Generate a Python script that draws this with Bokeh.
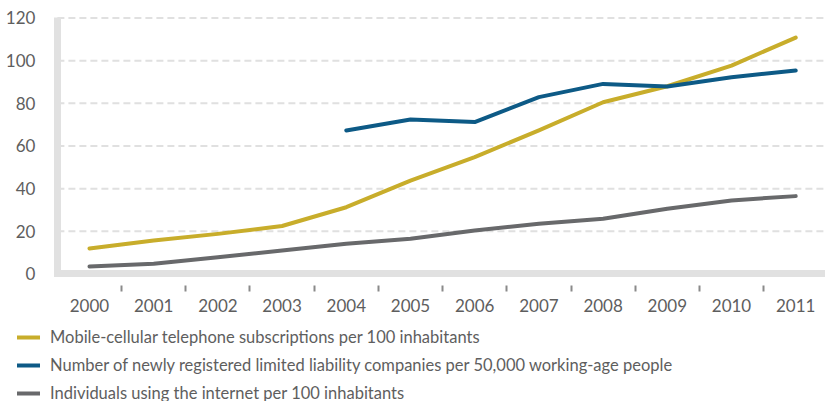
from bokeh.plotting import figure
from bokeh.models import FixedTicker, Legend, LegendItem, Range1d
from bokeh.embed import file_html
from bokeh.resources import INLINE

years = ["2000", "2001", "2002", "2003", "2004", "2005", "2006", "2007", "2008", "2009", "2010", "2011"]
mobile = [12.0, 15.7, 18.8, 22.5, 31.3, 43.8, 54.8, 67.3, 80.5, 88.0, 97.7, 110.8]
llc_years = ["2004", "2005", "2006", "2007", "2008", "2009", "2010", "2011"]
llc = [67.3, 72.4, 71.2, 82.9, 89.1, 87.9, 92.2, 95.4]
internet = [3.5, 4.8, 7.9, 11.0, 14.2, 16.5, 20.4, 23.5, 25.9, 30.6, 34.5, 36.5]
y_ticks = [0, 20, 40, 60, 80, 100, 120]

series_labels = [
    "Mobile-cellular telephone subscriptions per 100 inhabitants",
    "Number of newly registered limited liability companies per 50,000 working-age people",
    "Individuals using the internet per 100 inhabitants",
]
colors = ["#c8ad2b", "#0d5a86", "#68696b"]

FONT = "Lato"
TXT = "#5e5e5e"

xs = list(range(len(years)))
llc_x = [years.index(y) for y in llc_years]
series = [(xs, mobile), (llc_x, llc), (xs, internet)]

X0, X1 = -1.386, 11.464      # visible x extent (category units)
Y0, Y1 = -59.77, 128.2       # visible y extent (value units)
AX_LEFT = -0.5               # where the value axis sits

p = figure(width=825, height=401, output_backend="svg", toolbar_location=None,
           x_range=Range1d(X0, X1), y_range=Range1d(Y0, Y1), min_border=0)
p.outline_line_color = None
p.background_fill_color = "white"
p.border_fill_color = "white"

# dashed horizontal grid lines, limited to the plotting area
p.segment(x0=[AX_LEFT] * len(y_ticks), x1=[X1] * len(y_ticks), y0=y_ticks, y1=y_ticks,
          line_color="#e0e0e0", line_width=2, line_dash="7 4")

renderers = []
for (sx, sy), c in zip(series, colors):
    renderers.append(p.line(sx, sy, line_color=c, line_width=4, line_cap="round", line_join="round"))

# x axis, pinned at y = 0
xa = p.xaxis[0]
xa.fixed_location = 0
xa.bounds = (AX_LEFT, X1)
xa.ticker = FixedTicker(ticks=xs, minor_ticks=[i + 0.5 for i in range(len(years) - 1)])
xa.major_label_overrides = {i: y for i, y in enumerate(years)}
xa.axis_line_color = "#e1e1e1"
xa.axis_line_width = 7
xa.axis_line_cap = "square"
xa.major_tick_line_color = None
xa.major_tick_out = 0
xa.major_tick_in = 0
xa.minor_tick_line_color = "#8a8a8a"
xa.minor_tick_line_width = 2
xa.minor_tick_out = 18
xa.minor_tick_in = 0
xa.minor_tick_line_dash = "6 40"
xa.major_label_standoff = 7
xa.major_label_text_font = FONT
xa.major_label_text_font_size = "17px"
xa.major_label_text_color = TXT

# y axis, pinned at the left edge of the plotting area
ya = p.yaxis[0]
ya.fixed_location = AX_LEFT
ya.bounds = (0, 120)
ya.ticker = FixedTicker(ticks=y_ticks)
ya.axis_line_color = "#e1e1e1"
ya.axis_line_width = 7
ya.major_tick_line_color = None
ya.major_tick_out = 0
ya.major_tick_in = 0
ya.minor_tick_line_color = None
ya.major_label_standoff = 22
ya.major_label_text_font = FONT
ya.major_label_text_font_size = "17px"
ya.major_label_text_color = TXT

p.xgrid.grid_line_color = None
p.ygrid.grid_line_color = None

legend = Legend(items=[LegendItem(label=lab, renderers=[r]) for lab, r in zip(series_labels, renderers)],
                location=(17, -1.5), orientation="vertical")
legend.border_line_color = None
legend.background_fill_alpha = 0
legend.padding = 0
legend.margin = 0
legend.spacing = 8
legend.glyph_width = 23
legend.glyph_height = 20
legend.label_height = 20
legend.label_standoff = 10
legend.label_text_font = FONT
legend.label_text_font_size = "16.5px"
legend.label_text_color = TXT
p.add_layout(legend, "center")

open("out.html", "w").write(file_html(p, INLINE))
